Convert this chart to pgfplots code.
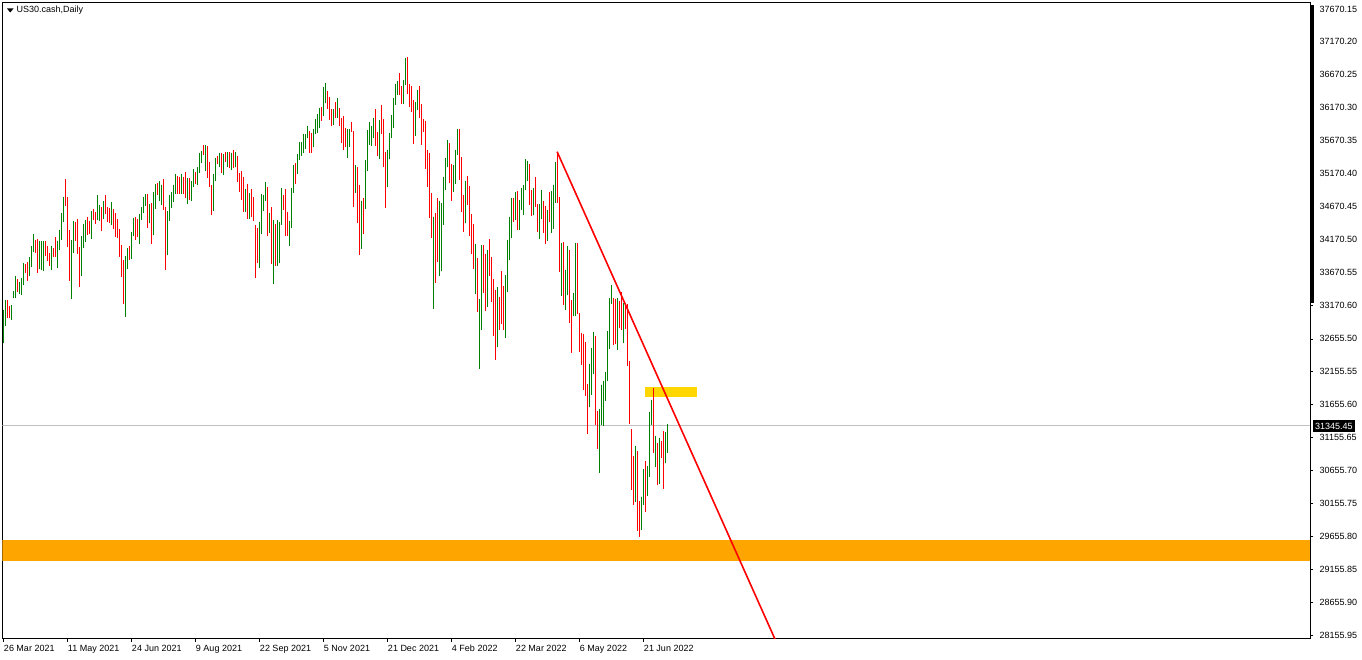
\documentclass[border=0pt]{standalone}
\usepackage{fontspec}
\setmainfont{Liberation Sans}
\usepackage{pgfplots}
\usepackage{pgfplotstable}
\pgfplotsset{compat=1.18}
\definecolor{upcol}{RGB}{0,128,0}
\definecolor{dncol}{RGB}{255,0,0}
\definecolor{bandcol}{RGB}{255,165,0}
\definecolor{boxcol}{RGB}{255,215,0}
\definecolor{pricecol}{RGB}{192,192,192}

\pgfplotstableread{
k hi lo u
1 33095 32598 1
2 33247 32857 1
3 33247 32978 0
4 33156 32978 0
5 33171 32948 1
6 33384 33272 1
7 33612 33272 1
8 33566 33374 0
9 33520 33338 1
10 33581 33328 1
11 33809 33480 1
12 33794 33652 0
13 33824 33541 0
14 33900 33617 1
15 34068 33754 1
16 34250 33982 1
17 34159 33966 0
18 34174 33662 0
19 34144 33723 1
20 34144 33708 1
21 34144 33693 1
22 34144 33921 0
23 34068 33845 0
24 33961 33769 0
25 34068 33708 1
26 34037 33906 0
27 34204 33906 0
28 34144 33738 1
29 34311 34012 1
30 34569 34164 1
31 34812 34438 1
32 35086 34681 0
33 34812 34058 0
34 34311 33541 0
35 34164 33267 1
36 34448 33966 1
37 34432 34149 0
38 34478 33951 0
39 34052 33450 0
40 34220 33617 1
41 34402 34042 1
42 34463 34134 1
43 34508 34240 0
44 34448 34255 0
45 34600 34179 1
46 34630 34463 0
47 34584 34407 0
48 34843 34468 1
49 34691 34453 1
50 34660 34301 0
51 34752 34483 1
52 34843 34559 0
53 34660 34438 0
54 34645 34422 0
55 34736 34392 1
56 34630 34326 0
57 34569 34204 0
58 34478 34194 0
59 34326 33906 0
60 34083 33602 0
61 33855 33191 0
62 33916 32993 1
63 34037 33723 1
64 34068 33860 0
65 34280 33875 1
66 34493 34225 1
67 34508 34164 0
68 34478 34210 0
69 34554 34103 1
70 34660 34468 1
71 34812 34569 1
72 34858 34681 1
73 34858 34346 0
74 34706 34422 1
75 34721 34103 0
76 34888 34240 1
77 35010 34635 1
78 35025 34848 0
79 35056 34757 1
80 34995 34696 1
81 35086 34620 0
82 34660 33708 0
83 34600 33936 1
84 34843 34453 1
85 34888 34650 1
86 34995 34742 1
87 35162 34863 1
88 35132 34863 0
89 35116 34863 0
90 35162 34863 1
91 35116 34863 0
92 35192 34802 0
93 35101 34711 1
94 35101 34772 0
95 35056 34757 1
96 35238 34970 1
97 35192 35010 0
98 35268 35000 1
99 35481 35182 1
100 35512 35334 1
101 35603 35451 0
102 35603 35213 1
103 35588 35106 0
104 35344 34970 0
105 34995 34544 0
106 35162 34605 1
107 35405 35061 1
108 35436 35319 0
109 35481 35268 1
110 35481 35182 0
111 35466 35152 1
112 35496 35350 0
113 35496 35274 1
114 35496 35258 0
115 35481 35228 1
116 35527 35258 0
117 35496 35274 1
118 35436 35046 0
119 35182 34894 0
120 35213 34772 0
121 35122 34590 0
122 34939 34590 1
123 35015 34483 0
124 34878 34483 1
125 34939 34514 0
126 34818 34453 0
127 34387 33586 0
128 34341 33814 0
129 34432 33738 1
130 34863 34255 1
131 34848 34605 1
132 35046 34757 1
133 34970 34225 0
134 34574 34270 1
135 34666 33799 0
136 34468 33495 1
137 34407 33769 0
138 34468 33769 1
139 34438 33814 1
140 34954 34392 1
141 34848 34620 0
142 34939 34225 0
143 34590 34225 0
144 34453 34073 1
145 34954 34346 1
146 35304 34878 1
147 35334 35015 0
148 35471 35167 1
149 35654 35380 1
150 35654 35441 1
151 35775 35486 1
152 35775 35547 1
153 35897 35714 1
154 35821 35486 0
155 35790 35486 0
156 35851 35578 1
157 36003 35775 1
158 36079 35790 1
159 36170 35866 1
160 36186 35973 0
161 36490 36049 1
162 36545 36246 1
163 36429 36155 0
164 36338 35988 0
165 36155 35897 0
166 36155 35912 1
167 36262 36018 0
168 36322 36018 1
169 36170 35892 0
170 36018 35638 0
171 36049 35532 0
172 35866 35578 0
173 35851 35410 1
174 35851 35578 1
175 35958 35806 0
176 35821 34666 0
177 35304 34878 1
178 35274 34422 0
179 35000 33936 0
180 34757 34027 1
181 34802 34255 0
182 35380 34635 1
183 35836 35213 1
184 35958 35608 1
185 35897 35593 1
186 36018 35714 1
187 36155 35593 0
188 35806 35441 0
189 35988 35395 1
190 36216 35775 0
191 36003 35274 0
192 35502 34650 0
193 35532 34970 1
194 35790 35395 1
195 36064 35714 1
196 36322 35866 1
197 36535 36216 1
198 36581 36368 1
199 36702 36368 0
200 36505 36231 0
201 36596 36231 1
202 36930 36520 1
203 36945 36383 0
204 36535 36186 0
205 36505 36110 0
206 36292 35623 0
207 36262 35745 1
208 36444 36140 1
209 36505 36018 0
210 36231 35608 0
211 36003 35806 0
212 35973 35243 0
213 35532 34970 0
214 35486 34498 0
215 34878 34194 0
216 34513 33115 1
217 34574 33510 0
218 34802 33829 0
219 34757 33617 1
220 34726 33693 1
221 35122 34392 1
222 35410 34924 1
223 35684 35274 1
224 35638 35030 0
225 35319 34757 0
226 35304 34894 1
227 35532 35015 1
228 35851 35456 1
229 35851 35076 0
230 35426 34590 0
231 34848 34286 0
232 35061 34422 1
233 35137 34696 0
234 34985 34225 0
235 34559 33951 0
236 34407 33723 0
237 34103 33343 1
238 33890 33070 0
239 33267 32203 1
240 34088 32796 1
241 34088 33358 0
242 33951 33085 0
243 34012 33145 1
244 34179 33617 0
245 33906 33221 0
246 33571 32705 0
247 33404 32340 0
248 33449 32537 1
249 33297 32796 0
250 33693 32887 0
251 33465 32796 0
252 33632 32674 1
253 34164 33374 1
254 34514 33860 1
255 34802 34194 1
256 34802 34438 0
257 34894 34468 1
258 34909 34316 0
259 34772 34316 1
260 34954 34620 1
261 35000 34544 1
262 35395 34924 1
263 35365 35061 1
264 35319 34696 0
265 34924 34529 0
266 34954 34544 1
267 35122 34666 0
268 34711 34286 0
269 34711 34179 1
270 34924 34483 1
271 34757 34270 0
272 34681 34103 0
273 34620 34149 1
274 34894 34438 0
275 34909 34270 1
276 35000 34331 1
277 35350 34726 1
278 35501 34721 0
279 34818 33678 0
280 34118 33313 1
281 34134 33176 0
282 33708 33100 1
283 34073 33328 1
284 34012 32902 0
285 33252 32446 0
286 33358 33009 1
287 34118 33009 1
288 34118 33039 0
289 33054 32461 0
290 32750 32264 0
291 32735 31884 0
292 32613 31793 0
293 31975 31215 0
294 32279 31625 1
295 32522 31808 1
296 32766 32127 1
297 32705 31352 0
298 31565 30987 0
299 31595 30622 1
300 31960 31352 1
301 32021 31337 1
302 32157 31717 1
303 32781 32021 1
304 33282 32507 1
305 33480 33191 1
306 33282 32568 0
307 33267 32583 0
308 33282 32492 1
309 33237 32826 0
310 33374 32796 0
311 33206 32598 1
312 33191 32811 0
313 33191 32249 0
314 32325 31367 0
315 31291 30364 0
316 30881 30136 0
317 31033 30181 1
318 30957 29741 0
319 30197 29649 0
320 30257 29756 1
321 30683 30136 1
322 30805 30029 0
323 30729 30273 1
324 31549 30561 1
325 31731 31351 1
326 31914 30926 0
327 31184 30708 1
328 31078 30440 0
329 31154 30454 1
330 31104 30845 0
331 31256 30374 0
332 31240 30769 1
333 31362 30921 1
}\bars

\begin{document}
\begin{tikzpicture}[x=1pt,y=1pt]
\useasboundingbox (0pt,0pt) rectangle (1362pt,-660pt);
\begin{axis}[
  at={(2.5pt,-638.5pt)}, anchor=south west,
  scale only axis, width=1308pt, height=636pt,
  xmin=0.6, xmax=654.6, ymin=28101.6, ymax=37768.8,
  axis line style={line width=0.8pt},
  tick align=outside, major tick length=3pt,
  tick style={black, line width=0.6pt},
  xtick pos=left, ytick pos=right, yticklabel pos=right,
  xtick={1,33,65,97,129,161,193,225,257,289,321},
  xticklabels={26 Mar 2021,11 May 2021,24 Jun 2021,9 Aug 2021,22 Sep 2021,5 Nov 2021,21 Dec 2021,4 Feb 2022,22 Mar 2022,6 May 2022,21 Jun 2022},
  ytick={37670.15,37170.20,36670.25,36170.30,35670.35,35170.40,34670.45,34170.50,33670.55,33170.60,32655.50,32155.55,31655.60,31155.65,30655.70,30155.75,29655.80,29155.85,28655.90,28155.95},
  yticklabels={37670.15,37170.20,36670.25,36170.30,35670.35,35170.40,34670.45,34170.50,33670.55,33170.60,32655.50,32155.55,31655.60,31155.65,30655.70,30155.75,29655.80,29155.85,28655.90,28155.95},
  xticklabel style={anchor=north west, inner sep=0pt, font=\fontsize{9}{10}\selectfont, xshift=0.5pt, yshift=-3.5pt},
  yticklabel style={anchor=west, inner sep=0pt, font=\fontsize{9}{10}\selectfont, xshift=6pt},
  clip mode=individual,
]
% price line
\addplot[pricecol, line width=0.8pt, forget plot] coordinates {(0.6,31345.45) (654.6,31345.45)};
% support band
\addplot[draw=none, fill=bandcol, forget plot] coordinates {(0.6,29280) (654.6,29280) (654.6,29599) (0.6,29599)} -- cycle;
% yellow box
\addplot[draw=none, fill=boxcol, forget plot] coordinates {(322,31773) (348,31773) (348,31924) (322,31924)} -- cycle;
% trend line
\addplot[dncol, line width=1.6pt, forget plot] coordinates {(277.9,35501) (388.2,28000)};
% bars
\addplot[draw=none, forget plot, restrict expr to domain={\thisrow{u}}{0.5:1.5},
  error bars/.cd, y dir=plus, y explicit, error mark=none,
  error bar style={line width=1pt, draw=upcol}]
  table[x=k, y=lo, y error expr=\thisrow{hi}-\thisrow{lo}] {\bars};
\addplot[draw=none, forget plot, restrict expr to domain={\thisrow{u}}{-0.5:0.5},
  error bars/.cd, y dir=plus, y explicit, error mark=none,
  error bar style={line width=1pt, draw=dncol}]
  table[x=k, y=lo, y error expr=\thisrow{hi}-\thisrow{lo}] {\bars};
\end{axis}
% scale marker on the right axis
\fill[black] (1309.5pt,-5pt) rectangle (1313.5pt,-303pt);
% current price label
\node[fill=black, text=white, inner xsep=2.5pt, inner ysep=0pt, minimum height=12pt, anchor=west, font=\fontsize{9}{10}\selectfont] at (1312.5pt,-426pt) {31345.45};
% title
\fill[black] (7pt,-8.5pt) -- (13.5pt,-8.5pt) -- (10.25pt,-12.5pt) -- cycle;
\node[anchor=west, inner sep=0pt, font=\fontsize{9}{10}\selectfont] at (16.5pt,-10.5pt) {US30.cash,Daily};
\end{tikzpicture}
\end{document}
